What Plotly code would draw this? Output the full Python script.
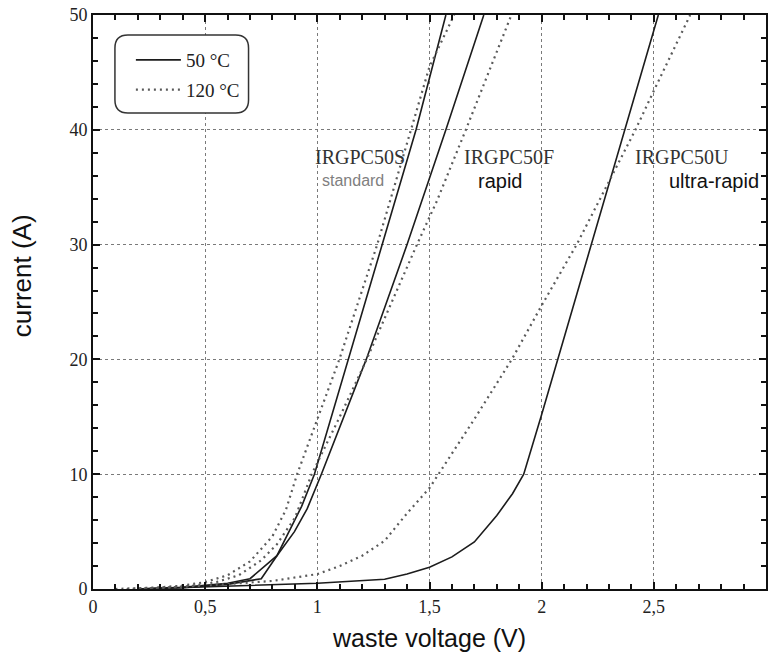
import plotly.graph_objects as go
from plotly.subplots import make_subplots

# ---------------- data ----------------
# IRGPC50S (standard)
s50_x = [0.20, 0.40, 0.60, 0.70, 0.82, 0.875, 0.93, 0.987, 1.138, 1.289, 1.44, 1.573]
s50_y = [0.0, 0.15, 0.5, 0.9, 2.9, 5.0, 7.2, 10.0, 20.0, 30.0, 40.0, 50.0]
s120_x = [0.10, 0.30, 0.40, 0.50, 0.60, 0.70, 0.80, 0.86, 0.91, 1.004, 1.098, 1.267, 1.418, 1.50, 1.61]
s120_y = [0.0, 0.15, 0.3, 0.6, 1.2, 2.4, 4.6, 6.9, 10.0, 15.0, 20.0, 30.0, 40.0, 45.5, 50.0]

# IRGPC50F (rapid)
f50_x = [0.20, 0.40, 0.60, 0.75, 0.82, 0.898, 0.955, 1.018, 1.218, 1.40, 1.573, 1.742]
f50_y = [0.0, 0.12, 0.4, 0.9, 2.9, 5.0, 7.0, 10.0, 20.0, 30.0, 40.0, 50.0]
f120_x = [0.15, 0.35, 0.45, 0.55, 0.65, 0.75, 0.82, 0.90, 0.975, 1.10, 1.22, 1.444, 1.533, 1.662, 1.865]
f120_y = [0.0, 0.15, 0.3, 0.6, 1.2, 2.5, 3.9, 6.2, 10.0, 15.0, 20.0, 30.0, 33.8, 40.0, 50.0]

# IRGPC50U (ultra-rapid)
u50_x = [0.20, 0.50, 1.00, 1.30, 1.40, 1.50, 1.60, 1.70, 1.80, 1.87, 1.92, 2.00, 2.365, 2.52]
u50_y = [0.0, 0.2, 0.5, 0.85, 1.3, 1.9, 2.8, 4.1, 6.4, 8.3, 10.0, 15.2, 39.7, 50.0]
u120_x = [0.20, 0.50, 0.80, 1.00, 1.10, 1.20, 1.30, 1.40, 1.50, 1.60, 1.70, 1.867, 2.00, 2.156, 2.418, 2.50, 2.662]
u120_y = [0.0, 0.3, 0.7, 1.3, 2.0, 2.9, 4.2, 6.6, 8.8, 11.8, 14.8, 20.0, 24.7, 30.0, 40.0, 43.4, 50.0]

x_dtick = 0.5
x_minor = 0.1
y_dtick = 10
y_minor = 2

legend_names = ["50 °C", "120 °C"]

lab_names = ["IRGPC50S", "IRGPC50F", "IRGPC50U"]
lab_x = [1.19, 1.853, 2.627]
lab_y = [37.6, 37.6, 37.6]
sub_names = ["standard", "rapid", "ultra-rapid"]
sub_x = [1.16, 1.813, 2.769]
sub_y = [35.6, 35.5, 35.5]

# ---------------- styling ----------------
SOLID = dict(color="#1c1c1c", width=1.6)
DOTTED = dict(color="#5a5a5a", width=2.2, dash="2px,4px")
SERIF = "Liberation Serif"
SANS = "Liberation Sans"

fig = make_subplots(rows=1, cols=1)
pairs = [
    (s50_x, s50_y, s120_x, s120_y, True),
    (f50_x, f50_y, f120_x, f120_y, False),
    (u50_x, u50_y, u120_x, u120_y, False),
]
for x50, y50, x120, y120, show in pairs:
    fig.add_trace(go.Scatter(x=x50, y=y50, mode="lines", line=SOLID,
                             name=legend_names[0], legendgroup="t50",
                             showlegend=show, hoverinfo="x+y"), row=1, col=1)
for x50, y50, x120, y120, show in pairs:
    fig.add_trace(go.Scatter(x=x120, y=y120, mode="lines", line=DOTTED,
                             name=legend_names[1], legendgroup="t120",
                             showlegend=show, hoverinfo="x+y"), row=1, col=1)

W, H = 770, 663
ML, MR, MT, MB = 93, 2, 15, 74
PW, PH = W - ML - MR, H - MT - MB


def px(xp):
    return (xp - ML) / PW


def py(yp):
    return (H - MB - yp) / PH


# rounded legend frame
x0, x1, y0, y1, r = 115, 249, 35, 113, 13
path = (
    f"M {px(x0 + r)} {py(y0)} L {px(x1 - r)} {py(y0)} "
    f"Q {px(x1)} {py(y0)} {px(x1)} {py(y0 + r)} "
    f"L {px(x1)} {py(y1 - r)} Q {px(x1)} {py(y1)} {px(x1 - r)} {py(y1)} "
    f"L {px(x0 + r)} {py(y1)} Q {px(x0)} {py(y1)} {px(x0)} {py(y1 - r)} "
    f"L {px(x0)} {py(y0 + r)} Q {px(x0)} {py(y0)} {px(x0 + r)} {py(y0)} Z"
)
fig.add_shape(type="path", path=path, xref="paper", yref="paper",
              line=dict(color="#333", width=1.5), fillcolor="white", layer="above")

annotations = []
for t, x, y in zip(lab_names, lab_x, lab_y):
    annotations.append(dict(x=x, y=y, xref="x", yref="y", text=t, showarrow=False,
                            font=dict(family=SERIF, size=20, color="#333")))
sub_colors = ["#808080", "#111", "#111"]
sub_sizes = [16, 20, 20]
sub_bg = ["rgba(0,0,0,0)", "white", "white"]
for t, x, y, c, s, bg in zip(sub_names, sub_x, sub_y, sub_colors, sub_sizes, sub_bg):
    annotations.append(dict(x=x, y=y, xref="x", yref="y", text=t, showarrow=False,
                            font=dict(family=SANS, size=s, color=c), bgcolor=bg,
                            borderpad=0))
annotations.append(dict(x=px(22), y=py(276), xref="paper", yref="paper",
                        xanchor="center", yanchor="middle",
                        text="current (A)", textangle=-90, showarrow=False,
                        font=dict(family=SANS, size=26, color="#111")))

axis_common = dict(
    showline=True, linecolor="#111", linewidth=2, mirror="ticks",
    tickmode="linear", tick0=0,
    ticks="inside", ticklen=7, tickwidth=1.5, tickcolor="#111",
    showgrid=True, gridcolor="#7a7a7a", gridwidth=1, griddash="dot",
    zeroline=False, tickfont=dict(family=SERIF, size=18, color="#222"),
)

fig.update_xaxes(range=[0, 3], dtick=x_dtick,
                 minor=dict(dtick=x_minor, ticks="inside", ticklen=5,
                            tickcolor="#111", showgrid=False),
                 title=dict(text="waste voltage (V)", standoff=14,
                            font=dict(family=SANS, size=25, color="#111")),
                 row=1, col=1, **axis_common)
fig.update_yaxes(range=[0, 50], dtick=y_dtick,
                 minor=dict(dtick=y_minor, ticks="inside", ticklen=5,
                            tickcolor="#111", showgrid=False),
                 row=1, col=1, **axis_common)

fig.update_layout(
    width=W, height=H, autosize=False,
    margin=dict(l=ML, r=MR, t=MT, b=MB),
    paper_bgcolor="white", plot_bgcolor="white",
    separators=", ",
    showlegend=True,
    legend=dict(x=px(131), y=py(41), xanchor="left", yanchor="top",
                bgcolor="rgba(0,0,0,0)", borderwidth=0,
                font=dict(family=SERIF, size=19, color="#222"),
                tracegroupgap=2, itemwidth=45),
    annotations=annotations,
)

fig.write_html("out.html")
